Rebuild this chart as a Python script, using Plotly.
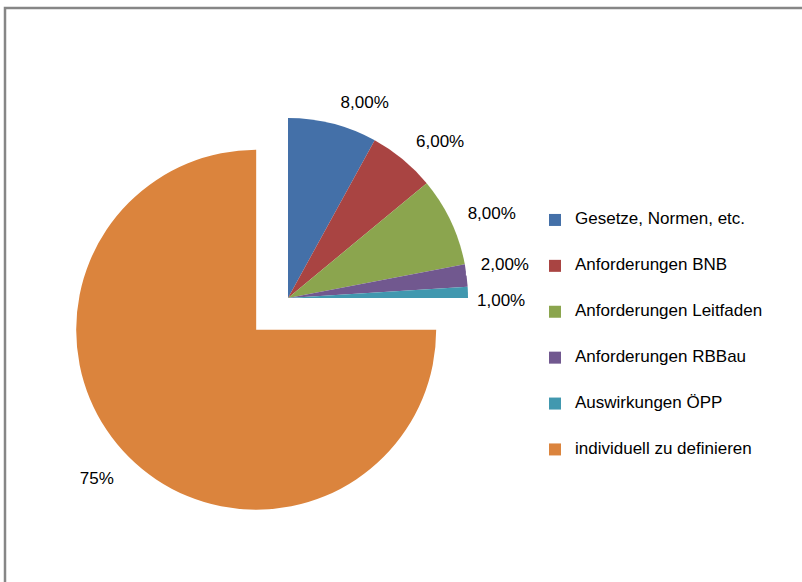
import plotly.graph_objects as go

categories = [
    "Gesetze, Normen, etc.",
    "Anforderungen BNB",
    "Anforderungen Leitfaden",
    "Anforderungen RBBau",
    "Auswirkungen ÖPP",
    "individuell zu definieren",
]
values = [8, 6, 8, 2, 1, 75]
value_labels = ["8,00%", "6,00%", "8,00%", "2,00%", "1,00%", "75%"]
colors = ["#4470A8", "#A94442", "#8BA54E", "#71588F", "#4198AF", "#DB843D"]
pulls = [0, 0, 0, 0, 0, 0.25]

W, H = 802, 582
TEXT_SIZE = 17      # legend text
LABEL_SIZE = 17     # slice label text

# spacing helpers for the outside slice labels (styling only):
# (leading spaces, trailing spaces, spacer size above, spacer size below)
label_pad = [
    (0, 0, None, 8),
    (1, 0, None, 24),
    (2, 0, None, 1),
    (2, 0, None, None),
    (0, 0, 20, None),
    (0, 1, 25, None),
]


def styled_label(txt, pad):
    lead, trail, above, below = pad
    s = (f"<span style='font-size:{LABEL_SIZE}px;color:#000000'>"
         f"{'&nbsp;' * lead}{txt}{'&nbsp;' * trail}</span>")
    if above is not None:
        s = f"<span style='font-size:{above}px'>&nbsp;</span><br>" + s
    if below is not None:
        s = s + f"<br><span style='font-size:{below}px'>&nbsp;</span>"
    return s


slice_text = [styled_label(t, p) for t, p in zip(value_labels, label_pad)]

# legend entries: extra blank lines give the wide row spacing of the original
legend_names = [f"<br><span style='font-size:{TEXT_SIZE}px'>{c}</span><br>&nbsp;" for c in categories]

cx, cy, half = 288, 298, 225  # pie box centre / half size in pixels

fig = go.Figure(
    go.Pie(
        labels=legend_names,
        values=values,
        text=slice_text,
        textinfo="text",
        textposition="outside",
        textfont=dict(size=11, color="#ffffff"),
        sort=False,
        direction="clockwise",
        rotation=0,
        pull=pulls,
        marker=dict(colors=colors, line=dict(width=0)),
        hoverinfo="skip",
        domain=dict(
            x=[(cx - half) / W, (cx + half) / W],
            y=[1 - (cy + half) / H, 1 - (cy - half) / H],
        ),
    )
)

fig.update_layout(
    width=W,
    height=H,
    margin=dict(l=0, r=0, t=0, b=0, pad=0, autoexpand=False),
    paper_bgcolor="white",
    plot_bgcolor="white",
    font=dict(family="Liberation Sans, Arial, sans-serif", color="#000000"),
    legend=dict(
        x=535 / W,
        y=1 - 192 / H,
        xanchor="left",
        yanchor="top",
        font=dict(size=11, color="#000000"),
        itemwidth=30,
        bgcolor="rgba(0,0,0,0)",
    ),
    shapes=[
        dict(
            type="rect", xref="paper", yref="paper",
            x0=5 / W, x1=1.2, y0=-0.2, y1=1 - 8 / H,
            line=dict(color="#868686", width=2.5),
            fillcolor="rgba(0,0,0,0)",
            layer="above",
        )
    ],
)

fig.write_html(
    "out.html",
    config={"displayModeBar": False},
    post_script="document.body.style.margin='0';",
)
